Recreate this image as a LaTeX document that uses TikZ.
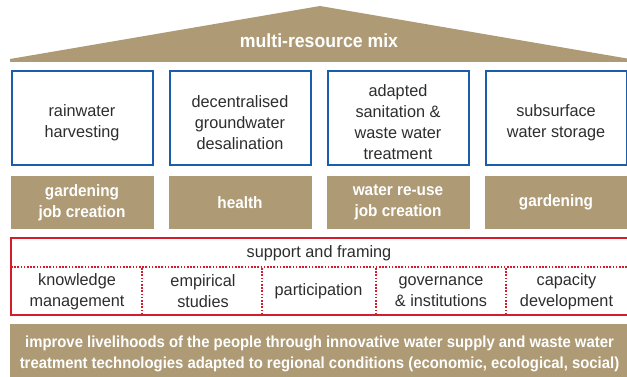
\documentclass[tikz,border=0pt]{standalone}
\usepackage{fontspec}
\setmainfont{Liberation Sans}[FakeStretch=0.985,BoldFeatures={FakeStretch=0.93}]

\definecolor{sand}{RGB}{174,155,118}
\definecolor{techblue}{RGB}{28,92,172}
\definecolor{framered}{RGB}{212,28,42}
\definecolor{darktext}{RGB}{45,45,45}

\begin{document}
\begin{tikzpicture}[x=1pt,y=-1pt,
	tech/.style={draw=techblue,line width=2pt,minimum width=141pt,minimum height=94pt,inner sep=0pt},
	techlabel/.style={align=center,text=darktext,font=\fontsize{16.5}{21}\selectfont,yshift=-4.5pt},
	benefit/.style={fill=sand,minimum width=143pt,minimum height=52pt,inner sep=0pt,align=center,text=white,font=\fontsize{16.5}{21}\selectfont\bfseries},
	pillar/.style={align=center,text=darktext,font=\fontsize{16.5}{21}\selectfont},
	divider/.style={framered,line width=1.6pt,dash pattern=on 1.6pt off 1.6pt}]
	\useasboundingbox (0,0) rectangle (627,377);
	\clip (0,0) rectangle (627,377);
	% roof
	\fill[sand] (10,62) -- (10,59) -- (320,6) -- (630,59) -- (630,62) -- cycle;
	\node[text=white,font=\fontsize{19}{22}\selectfont\bfseries] (mix) at (319,40.5) {multi-resource mix};
	% technologies
	\node[tech,label={[techlabel]center:{rainwater\\harvesting}}] (rain) at (82,118) {};
	\node[tech,label={[techlabel]center:{decentralised\\groundwater\\desalination}}] (desal) at (240,118) {};
	\node[tech,label={[techlabel]center:{adapted\\sanitation \&\\waste water\\treatment}}] (sanit) at (398,118) {};
	\node[tech,label={[techlabel]center:{subsurface\\water storage}}] (store) at (556,118) {};
	% benefits
	\node[benefit] (rainben) at (82,202.5) {gardening\\job creation};
	\node[benefit] (desalben) at (240,202.5) {health};
	\node[benefit] (sanitben) at (398,202.5) {water re-use\\job creation};
	\node[benefit] (storeben) at (556,202.5) {gardening};
	% support and framing
	\draw[framered,line width=2pt] (11,238) rectangle (640,315);
	\node[pillar] (frame) at (319,253.5) {support and framing};
	\draw[divider] (11,267) -- (630,267);
	\foreach \x in {142,262,376,506}
		\draw[divider] (\x,268) -- (\x,314);
	\node[pillar] (know) at (77,291.5) {knowledge\\management};
	\node[pillar] (emp) at (203,291.5) {empirical\\studies};
	\node[pillar] (part) at (318.5,291.5) {participation};
	\node[pillar] (gov) at (441,291.5) {governance\\\& institutions};
	\node[pillar] (cap) at (566.5,291.5) {capacity\\development};
	% goal
	\fill[sand] (10,324) rectangle (640,380);
	\node[align=center,text=white,font=\fontsize{16}{21}\selectfont\bfseries] (goal) at (319.5,353.5) {improve livelihoods of the people through innovative water supply and waste water\\treatment technologies adapted to regional conditions (economic, ecological, social)};
\end{tikzpicture}
\end{document}
